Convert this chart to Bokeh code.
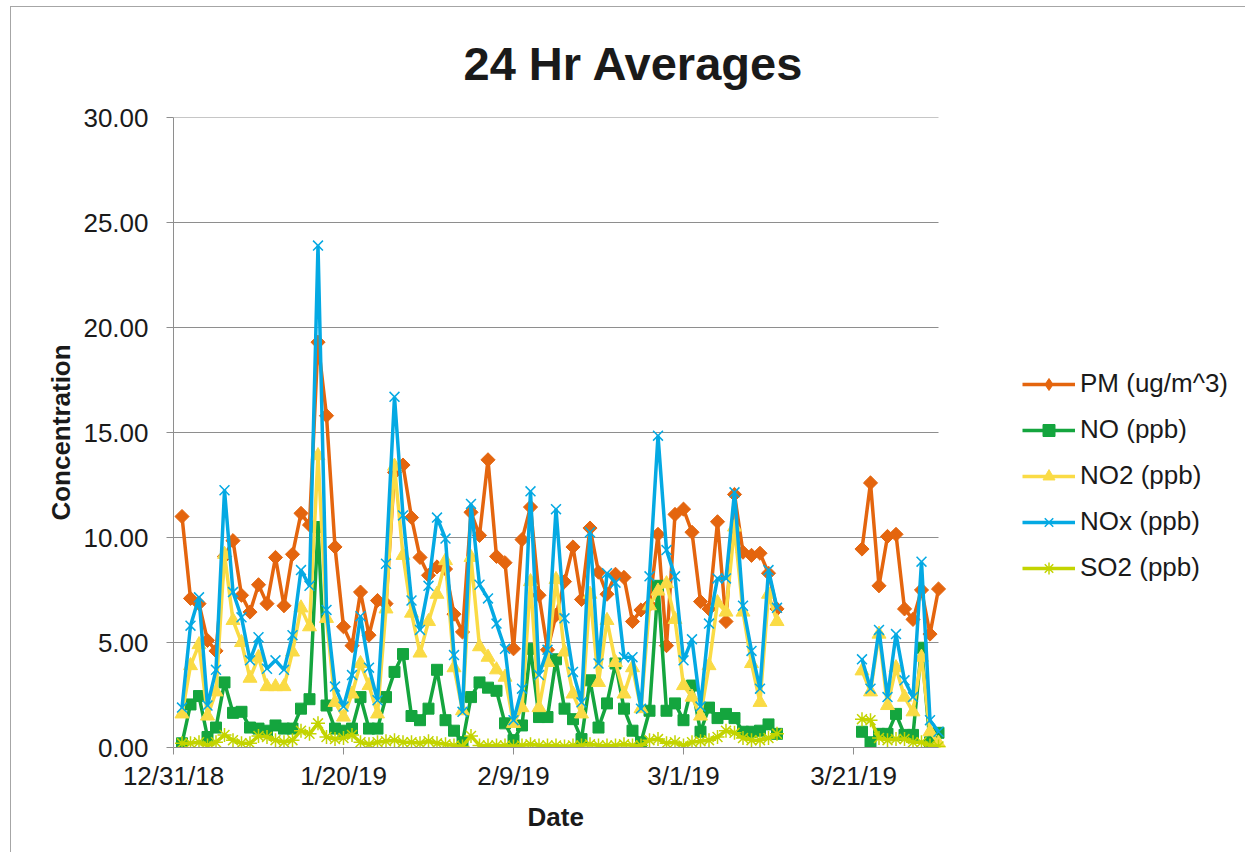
import numpy as np
import pandas as pd
from bokeh.plotting import figure
from bokeh.models import FixedTicker, NumeralTickFormatter, Legend, LegendItem, Title
from bokeh.embed import file_html
from bokeh.resources import INLINE

nan = float("nan")

# daily 24 hr averages, 1/1/19 .. 3/31/19 (no data 3/13 .. 3/21)
dates = pd.date_range("2019-01-01", "2019-03-31", freq="D")
gap = [nan] * 9

pm = [11.0, 7.1, 6.85, 5.1, 4.6, 9.1, 9.85, 7.25, 6.45, 7.75,
      6.85, 9.05, 6.75, 9.2, 11.15, 10.6, 19.3, 15.8, 9.55, 5.75,
      4.85, 7.4, 5.35, 7.0, 6.85, 13.1, 13.45, 10.95, 9.05, 8.2,
      8.6, 8.5, 6.35, 5.5, 11.2, 10.1, 13.7, 9.1, 8.8, 4.7,
      9.9, 11.45, 7.25, 4.65, 6.3, 7.9, 9.55, 7.05, 10.45, 8.35,
      7.3, 8.25, 8.1, 6.0, 6.55, 6.8, 10.15, 4.85, 11.1, 11.35,
      10.25, 6.95, 6.6, 10.75, 6.0, 12.05, 9.3, 9.15, 9.25, 8.3,
      6.6] + gap + [9.45, 12.6, 7.7, 10.05, 10.15, 6.6, 6.1, 7.5, 5.4, 7.55]

no = [0.2, 2.05, 2.45, 0.5, 0.95, 3.1, 1.65, 1.7, 0.95, 0.9,
      0.8, 1.05, 0.9, 0.9, 1.85, 2.3, 10.5, 2.0, 0.9, 0.8,
      0.9, 2.4, 0.9, 0.9, 2.4, 3.6, 4.45, 1.5, 1.3, 1.85,
      3.7, 1.3, 0.8, 0.25, 2.4, 3.1, 2.85, 2.7, 1.15, 0.35,
      1.05, 4.7, 1.45, 1.45, 4.2, 1.85, 1.35, 0.4, 3.2, 0.95,
      2.1, 4.0, 1.85, 0.8, 0.25, 1.75, 7.7, 1.75, 2.1, 1.3,
      2.95, 0.75, 1.9, 1.4, 1.6, 1.4, 0.75, 0.75, 0.8, 1.1,
      0.65] + gap + [0.75, 0.25, 0.65, 0.65, 1.6, 0.6, 0.6, 4.75, 0.25, 0.7]

no2 = [1.6, 3.9, 4.9, 1.5, 2.65, 9.2, 6.05, 5.0, 3.3, 4.3,
       2.9, 2.9, 2.9, 4.55, 6.65, 5.75, 13.9, 6.15, 2.15, 1.45,
       2.55, 4.0, 2.95, 1.6, 6.6, 13.4, 9.15, 6.4, 4.5, 6.0,
       7.3, 8.9, 3.8, 1.75, 9.05, 4.8, 4.3, 3.7, 3.35, 1.15,
       1.9, 7.9, 1.9, 4.05, 8.0, 4.55, 2.55, 1.6, 7.3, 3.1,
       6.05, 4.05, 2.55, 3.8, 1.85, 6.75, 7.45, 7.8, 6.1, 2.95,
       2.4, 1.5, 3.9, 6.9, 6.45, 10.5, 6.45, 4.0, 2.15, 7.3,
       6.0] + gap + [3.65, 2.65, 5.4, 2.0, 3.8, 2.4, 1.7, 4.3, 0.75, 0.2]

nox = [1.9, 5.8, 7.15, 2.0, 3.7, 12.25, 7.4, 6.2, 4.15, 5.25,
       3.75, 4.15, 3.7, 5.35, 8.45, 7.7, 23.9, 6.55, 2.9, 1.95,
       3.45, 6.25, 3.8, 2.25, 8.75, 16.7, 11.05, 7.0, 5.6, 7.7,
       10.95, 9.95, 4.4, 1.7, 11.6, 7.75, 7.1, 5.9, 4.7, 1.3,
       2.8, 12.2, 3.45, 4.65, 11.35, 6.15, 3.6, 2.15, 10.25, 4.0,
       8.3, 7.85, 4.3, 4.3, 1.85, 8.15, 14.85, 9.4, 8.15, 4.15,
       5.15, 1.95, 5.9, 8.05, 8.05, 12.15, 6.75, 4.6, 2.8, 8.45,
       6.65] + gap + [4.2, 2.8, 5.6, 2.4, 5.4, 3.2, 2.4, 8.85, 1.3, 0.75]

so2 = [0.2, 0.2, 0.25, 0.1, 0.25, 0.6, 0.35, 0.2, 0.2, 0.55,
       0.5, 0.35, 0.25, 0.35, 0.8, 0.65, 1.15, 0.5, 0.4, 0.45,
       0.6, 0.25, 0.15, 0.25, 0.3, 0.35, 0.25, 0.25, 0.2, 0.3,
       0.2, 0.15, 0.1, 0.05, 0.55, 0.1, 0.1, 0.1, 0.1, 0.05,
       0.1, 0.15, 0.1, 0.1, 0.1, 0.05, 0.1, 0.1, 0.15, 0.1,
       0.1, 0.1, 0.15, 0.1, 0.1, 0.35, 0.4, 0.2, 0.25, 0.1,
       0.25, 0.3, 0.35, 0.5, 0.8, 0.7, 0.45, 0.35, 0.35, 0.45,
       0.65] + gap + [1.35, 1.3, 0.45, 0.35, 0.4, 0.4, 0.25, 0.25, 0.1, 0.05]

series_names = ["PM (ug/m^3)", "NO (ppb)", "NO2 (ppb)", "NOx (ppb)", "SO2 (ppb)"]
tick_dates = ["2018-12-31", "2019-01-20", "2019-02-09", "2019-03-01", "2019-03-21"]
tick_labels = ["12/31/18", "1/20/19", "2/9/19", "3/1/19", "3/21/19"]
axis_start = pd.Timestamp("2018-12-31")
axis_end = pd.Timestamp("2019-03-31")
y_ticks = [0, 5, 10, 15, 20, 25, 30]

x = np.asarray((dates - axis_start).days, dtype=float)
tick_x = [float((pd.Timestamp(d) - axis_start).days) for d in tick_dates]
x_end = float((axis_end - axis_start).days)

FONT = "Liberation Sans"
TXT = "#1a1a1a"
GRAY = "#8e8e8e"

# layout: the date axis occupies 765 px; the frame extends right to hold the legend
FIG_W, FIG_H = 1235, 846
B_LEFT, B_RIGHT, B_TOP, B_BOTTOM = 162, 5, 110, 106
AXIS_PX = 765.0
frame_w = FIG_W - B_LEFT - B_RIGHT
x_view_end = x_end * frame_w / AXIS_PX

p = figure(width=FIG_W, height=FIG_H, x_range=(0, x_view_end), y_range=(0, 30),
           output_backend="svg", toolbar_location=None,
           min_border_left=B_LEFT, min_border_right=B_RIGHT,
           min_border_top=B_TOP, min_border_bottom=B_BOTTOM)
p.styles = {"border-left": "1px solid #a6a6a6", "border-top": "1px solid #a6a6a6",
            "margin-left": "10px", "margin-top": "6px"}

p.title.text = "24 Hr Averages"
p.title.text_font = FONT
p.title.text_font_size = "47px"
p.title.text_font_style = "bold"
p.title.text_color = TXT
p.title.align = "left"
p.title.offset = 290
p.title.standoff = 55

p.outline_line_color = None
p.xgrid.grid_line_color = None
p.ygrid.grid_line_color = None

# horizontal gridlines limited to the date span
p.segment(x0=[0.0] * len(y_ticks), y0=y_ticks, x1=[x_end] * len(y_ticks), y1=y_ticks,
          line_color=GRAY, line_width=1)

p.xaxis.ticker = FixedTicker(ticks=tick_x)
p.xaxis.major_label_overrides = {t: l for t, l in zip(tick_x, tick_labels)}
p.xaxis.bounds = (0, x_end)
p.yaxis.ticker = FixedTicker(ticks=y_ticks)
p.yaxis.formatter = NumeralTickFormatter(format="0.00")

for ax in (p.xaxis[0], p.yaxis[0]):
    ax.axis_line_color = GRAY
    ax.major_tick_line_color = GRAY
    ax.major_tick_out = 7
    ax.major_tick_in = 0
    ax.minor_tick_line_color = None
    ax.major_label_text_font = FONT
    ax.major_label_text_font_size = "26px"
    ax.major_label_text_color = TXT
    ax.axis_label_text_font = FONT
    ax.axis_label_text_font_size = "26px"
    ax.axis_label_text_font_style = "bold"
    ax.axis_label_text_color = TXT

p.yaxis.axis_label = "Concentration"
p.xaxis.major_label_standoff = 6
p.yaxis.major_label_standoff = 18
p.yaxis.axis_label_standoff = 4

# x-axis title centred under the date span
date_title = Title(text="Date", align="left", offset=354, standoff=12,
                   text_font=FONT, text_font_size="26px", text_font_style="bold",
                   text_color=TXT)
p.add_layout(date_title, "below")

colors = ["#E4650E", "#14A53E", "#FADB45", "#04A9E3", "#C3D400"]
values = [pm, no, no2, nox, so2]
marker_specs = [
    dict(marker="square", size=10, angle=np.pi / 4, line_width=1),
    dict(marker="square", size=11, line_width=1),
    dict(marker="triangle", size=14, line_width=1),
    dict(marker="x", size=14, line_width=1.5),
    dict(marker="asterisk", size=14, line_width=1.5),
]
legend_markers = ["diamond", "square", "triangle", "x", "asterisk"]
legend_sizes = [15, 11, 14, 14, 14]

items = []
for name, col, vals, ms, lm, ls in zip(series_names, colors, values, marker_specs,
                                       legend_markers, legend_sizes):
    y = np.asarray(vals, dtype=float)
    lr = p.line(x, y, line_color=col, line_width=3.5)
    ms = dict(ms)
    mk = ms.pop("marker")
    if mk in ("x", "asterisk"):
        sr = p.scatter(x, y, marker=mk, line_color=col, **ms)
    else:
        sr = p.scatter(x, y, marker=mk, fill_color=col, line_color=col, **ms)
    if lm == "diamond":
        kr = p.scatter(x=[nan], y=[nan], marker=lm, size=ls, fill_color=col, line_color=col)
        items.append(LegendItem(label=name, renderers=[lr, kr]))
    else:
        items.append(LegendItem(label=name, renderers=[lr, sr]))

legend = Legend(items=items, location=(849, 164), orientation="vertical",
                glyph_width=53, glyph_height=30, label_height=30, spacing=15,
                label_standoff=5, padding=0, margin=0,
                label_text_font=FONT, label_text_font_size="26px",
                label_text_color=TXT, border_line_color=None,
                background_fill_alpha=0)
p.add_layout(legend, "center")

open("out.html", "w").write(file_html(p, INLINE))
